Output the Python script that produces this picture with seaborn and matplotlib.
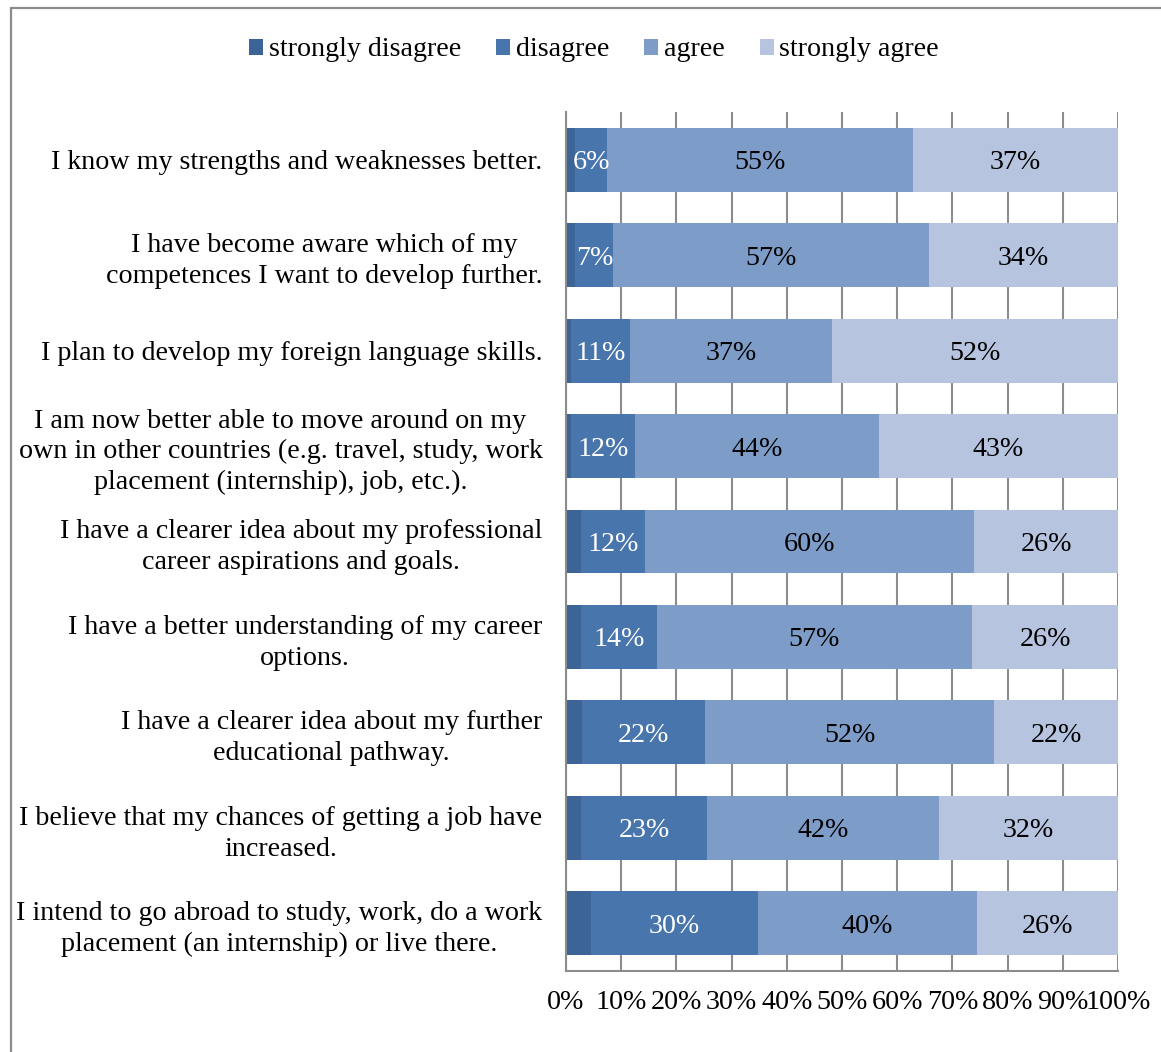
import matplotlib
matplotlib.use("Agg")
import matplotlib.pyplot as plt
from matplotlib.patches import Patch
from matplotlib.lines import Line2D
import numpy as np
import pandas as pd
import seaborn as sns

# Survey statements (top to bottom)
statements = [
    "I know my strengths and weaknesses better.",
    "I have become aware which of my\ncompetences I want to develop further.",
    "I plan to develop my foreign language skills.",
    "I am now better able to move around on my\nown in other countries (e.g. travel, study, work\nplacement (internship), job, etc.).",
    "I have a clearer idea about my professional\ncareer aspirations and goals.",
    "I have a better understanding of my career\noptions.",
    "I have a clearer idea about my further\neducational pathway.",
    "I believe that my chances of getting a job have\nincreased.",
    "I intend to go abroad to study, work, do a work\nplacement (an internship) or live there.",
]

# Shares of respondents (%) per answer
strongly_disagree = [1.7, 1.7, 0.9, 0.9, 2.8, 2.8, 2.9, 2.8, 4.5]
disagree = [5.8, 6.9, 10.7, 11.6, 11.6, 13.6, 22.3, 22.8, 30.3]
agree = [55.3, 57.1, 36.6, 44.2, 59.6, 57.2, 52.4, 42.0, 39.6]
strongly_agree = [37.2, 34.3, 51.8, 43.3, 26.0, 26.4, 22.4, 32.4, 25.6]

series_names = ["strongly disagree", "disagree", "agree", "strongly agree"]
colors = ["#3C6497", "#4975AD", "#7E9CC8", "#B6C4DF"]
label_colors = [None, "white", "black", "black"]
x_ticks = [0, 10, 20, 30, 40, 50, 60, 70, 80, 90, 100]
x_tick_labels = ["0%", "10%", "20%", "30%", "40%", "50%", "60%", "70%", "80%", "90%", "100%"]

sns.set_theme(style="white")
plt.rcParams["font.family"] = ["Liberation Serif", "DejaVu Serif"]
plt.rcParams["text.color"] = "black"
plt.rcParams["xtick.labelcolor"] = "black"
plt.rcParams["ytick.labelcolor"] = "black"
FS = 20.2
GRID = "#8C8C8C"

df = pd.DataFrame({
    "statement": statements,
    "strongly disagree": strongly_disagree,
    "disagree": disagree,
    "agree": agree,
    "strongly agree": strongly_agree,
})
cum = df[series_names].cumsum(axis=1)
starts = cum - df[series_names]

fig = plt.figure(figsize=(11.61, 10.52), dpi=100)
ax = fig.add_axes([566 / 1161, 1 - 971 / 1052, (1118 - 566) / 1161, (971 - 112) / 1052])

# Stacked bars: draw cumulative totals from the right-most segment backwards
for name, col in reversed(list(zip(series_names, colors))):
    sns.barplot(x=cum[name], y=df["statement"], orient="h", color=col,
                width=0.67, ax=ax, saturation=1, zorder=2, linewidth=0)

# Value labels centred in each labelled segment
for name, tc in zip(series_names, label_colors):
    if tc is None:
        continue
    for i in range(len(df)):
        v = df[name].iloc[i]
        xc = starts[name].iloc[i] + v / 2
        ax.text(xc, i, f"{v:.0f}%", ha="center", va="center_baseline", color=tc,
                fontsize=FS, zorder=4)

ax.set_xlim(0, 100)
ax.set_ylim(len(df) - 0.5, -0.5)
ax.set_xticks(x_ticks)
ax.set_xticklabels(x_tick_labels, fontsize=FS)
ax.set_xlabel("")
ax.set_ylabel("")
ax.set_yticks(range(len(df)))
ax.set_yticklabels(statements, fontsize=FS, ha="right", multialignment="center",
                   linespacing=1.3)
ax.set_yticks(np.arange(-0.5, len(df), 1.0), minor=True)

ax.tick_params(axis="y", which="major", length=0, pad=17)
ax.tick_params(axis="y", which="minor", length=6, width=1.5, color=GRID, direction="out")
ax.tick_params(axis="x", which="major", length=6, width=1.5, color=GRID,
               direction="out", pad=8)

ax.grid(axis="x", color=GRID, linewidth=1.5, zorder=0)
ax.set_axisbelow(True)
for s in ["top", "right"]:
    ax.spines[s].set_visible(False)
for s in ["left", "bottom"]:
    ax.spines[s].set_color(GRID)
    ax.spines[s].set_linewidth(1.5)

handles = [Patch(facecolor=c, edgecolor="none") for c in colors]
fig.legend(handles, series_names, loc="center", bbox_to_anchor=(594 / 1161, 1 - 50 / 1052),
           ncol=4, frameon=False, fontsize=FS, handlelength=0.5, handleheight=0.5,
           handletextpad=0.2, columnspacing=1.25)

# Chart frame (left and top edges)
fig.add_artist(Line2D([10.5 / 1161, 10.5 / 1161], [0, 1 - 7.5 / 1052],
                      transform=fig.transFigure, color=GRID, linewidth=1.6))
fig.add_artist(Line2D([10.5 / 1161, 1], [1 - 7.5 / 1052, 1 - 7.5 / 1052],
                      transform=fig.transFigure, color=GRID, linewidth=1.6))

fig.savefig("out.png", dpi=100, facecolor="white")
